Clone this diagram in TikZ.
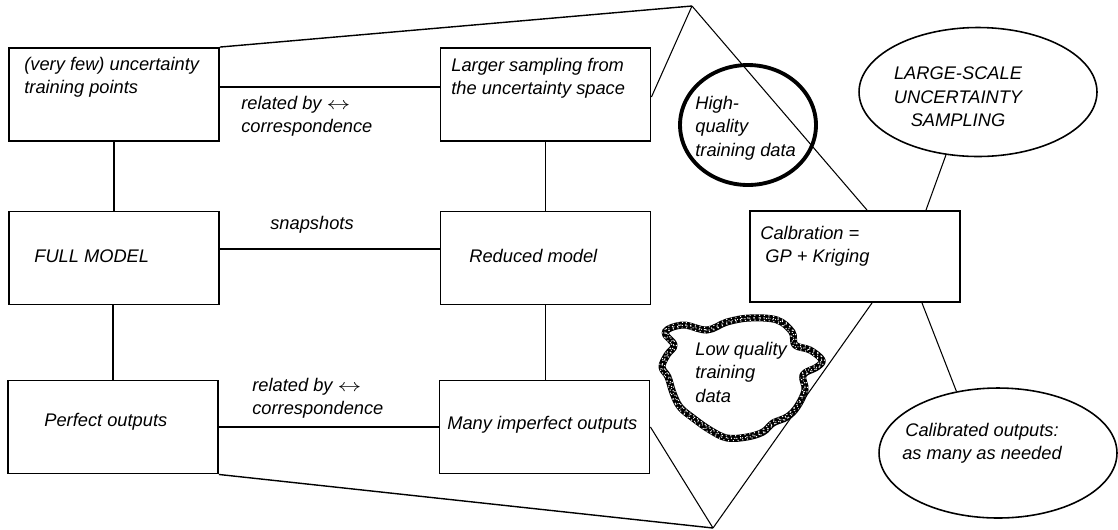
\documentclass[tikz,border=0pt]{standalone}
\usepackage{fontspec}
\setmainfont{Liberation Sans}
\usetikzlibrary{shapes.geometric}

\newcommand{\corrarrow}{\scalebox{1.35}[1]{$\leftrightarrow$}}

\begin{document}
\begin{tikzpicture}[x=0.02cm,y=-0.02cm,
    box/.style={draw,line width=1.1pt,minimum width=4.2cm,minimum height=1.86cm,inner sep=0pt},
    oval/.style={draw,ellipse,line width=0.9pt,inner sep=0pt},
    txt/.style={inner sep=0pt,align=left,font=\itshape\fontsize{10.4}{13.3}\selectfont},
    link/.style={line width=0.8pt},
    fan/.style={line width=0.6pt},
    cloudline/.style={line width=4pt,line join=round},
    speckle/.style={white,line width=0.6pt,dash pattern=on 0.6pt off 2.1pt}]
    \useasboundingbox (0,0) rectangle (1118,529);

    % boxes
    \node[box] (fewpts)  at (114,94.5) {};
    \node[box] (larger)  at (545.5,94.5) {};
    \node[box] (full)    at (114,258) {};
    \node[box] (reduced) at (545.5,258) {};
    \node[box] (perfect) at (113,427) {};
    \node[box] (many)    at (544.5,427) {};
    \node[box,minimum height=1.82cm] (calib) at (855,256.5) {};

    % ovals
    \node[oval,minimum width=4.76cm,minimum height=2.58cm] (largescale) at (978,92) {};
    \node[oval,line width=2.2pt,minimum width=2.72cm,minimum height=2.4cm] (highq) at (748,125) {};
    \node[oval,minimum width=4.76cm,minimum height=2.6cm] (calout) at (998,453) {};

    % the noisy cloud, drawn round its middle
    \begin{scope}[shift={(740,380)}]
    \def\cloudpts{(-75,-48) (-57,-55) (-33,-50) (-13,-58)
        (10,-62) (37,-60) (52,-48) (55,-35) (70,-30) (82,-20) (77,-13) (63,-5) (65,10)
        (57,27) (47,37) (33,43) (23,52) (7,57) (-13,58) (-30,50) (-47,38) (-60,27)
        (-67,13) (-72,-3) (-78,-13) (-73,-25) (-66,-35)}
    \draw[cloudline] plot[smooth cycle,tension=0.6] coordinates {\cloudpts};
    \draw[speckle,xshift=1.4pt] plot[smooth cycle,tension=0.6] coordinates {\cloudpts};
    \draw[speckle,dash phase=1.1pt,yshift=1.5pt] plot[smooth cycle,tension=0.6] coordinates {\cloudpts};
    \draw[speckle,dash phase=0.4pt,yshift=-1.3pt,xshift=-0.6pt] plot[smooth cycle,tension=0.6] coordinates {\cloudpts};
    \draw[speckle,dash pattern=on 0.5pt off 3.1pt,xshift=-1.5pt] plot[smooth cycle,tension=0.6] coordinates {\cloudpts};
    \draw[speckle,dash pattern=on 0.4pt off 2.7pt,dash phase=1.8pt] plot[smooth cycle,tension=0.6] coordinates {\cloudpts};
    \end{scope}

    % apexes of the fan
    \coordinate (top) at (692,6);
    \coordinate (bot) at (713,528);

    % connectors
    \draw[link] ([yshift=0.15cm]fewpts.east) -- ([yshift=0.15cm]larger.west);
    \draw[link] (fewpts.south) -- (full.north);
    \draw[link] (perfect.north |- full.south) -- (perfect.north);
    \draw[link] ([yshift=0.18cm]full.east) -- ([yshift=0.18cm]reduced.west);
    \draw[link] (larger.south) -- (reduced.north);
    \draw[link] (reduced.south) -- (reduced.south |- many.north);
    \draw[link] (perfect.east) -- (many.west);

    % fan lines
    \draw[link] (fewpts.north east) -- (top);
    \draw[fan] (top) -- ([yshift=-0.05cm]larger.east);
    \draw[fan] (top) -- ([xshift=0.24cm]calib.north);
    \draw[link] (perfect.south east) -- (bot);
    \draw[fan] (many.east) -- (bot);
    \draw[fan] (bot) -- ([xshift=0.34cm]calib.south);
    \draw[fan] (largescale.243) -- ([xshift=1.42cm]calib.north);
    \draw[fan] ([xshift=1.34cm]calib.south) -- (calout.124);

    % texts
    \node[txt,anchor=north west] (fewtxt) at (24,57) {(very few) uncertainty\\training points};
    \node[txt,anchor=north west] (largertxt) at (451,58) {Larger sampling from\\the uncertainty space};
    \node[txt,anchor=north west] (rel1) at (241,96) {related by \corrarrow\\correspondence};
    \node[txt,anchor=west] (fulltxt) at (34,256) {FULL MODEL};
    \node[txt,anchor=west] (snap) at (270,225) {snapshots};
    \node[txt,anchor=west] (redtxt) at (469,256) {Reduced model};
    \node[txt,anchor=west] (perftxt) at (44,422) {Perfect outputs};
    \node[txt,anchor=north west] (rel2) at (252,378) {related by \corrarrow\\correspondence};
    \node[txt,anchor=west] (manytxt) at (447,425) {Many imperfect outputs};
    \node[txt,anchor=north west] (caltxt) at (760,226) {Calbration =\\\hspace*{0.1cm}GP + Kriging};
    \node[txt,align=center] (lstxt) at (958,97) {LARGE-SCALE\\UNCERTAINTY\\SAMPLING};
    \node[txt,anchor=north west] (hqtxt) at (695,96) {High-\\quality\\training data};
    \node[txt,anchor=north west] (lqtxt) at (695,342) {Low quality\\training\\data};
    \node[txt,align=center] (couttxt) at (982,443) {Calibrated outputs:\\as many as needed};
\end{tikzpicture}
\end{document}
